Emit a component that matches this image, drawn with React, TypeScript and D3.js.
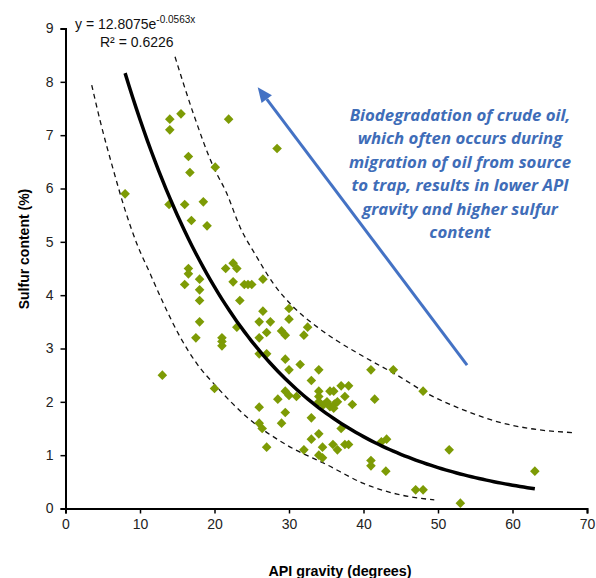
import React, {useRef, useEffect} from "react"
import * as d3 from "d3"

// API gravity (x) vs sulfur content (y)
const apiGravity = [8.0, 13.0, 14.0, 14.0, 15.5, 13.9, 16.0, 16.5, 16.7, 16.9, 18.5, 19.0, 20.1, 21.9, 28.4,
    16.5, 16.5, 16.0, 18.0, 18.0, 18.0, 18.0, 17.5, 21.5, 22.5, 23.0, 22.5, 24.0, 24.5, 25.0, 26.5, 23.4,
    26.5, 30.0, 30.0, 26.0, 27.5, 23.0, 27.0, 29.0, 29.5, 32.5, 32.0, 21.0, 21.0, 21.0, 26.0, 26.0, 27.0,
    29.5, 30.0, 31.5, 34.0, 33.0, 41.0, 44.0, 20.0, 29.5, 30.0, 28.5, 31.0, 34.0, 34.0, 35.5, 36.0, 37.0,
    38.0, 37.5, 38.5, 41.5, 48.0, 34.0, 34.6, 35.1, 35.5, 36.1, 36.5, 36.0, 26.0, 29.5, 33.0, 29.0, 26.0,
    26.4, 37.0, 34.0, 33.0, 35.9, 36.5, 37.5, 38.0, 34.5, 32.0, 27.0, 34.0, 34.5, 42.4, 43.1, 51.5, 41.0,
    41.0, 43.0, 63.0, 47.0, 48.0, 53.0]
const sulfur = [5.9, 2.5, 7.3, 7.1, 7.4, 5.7, 5.7, 6.6, 6.3, 5.4, 5.75, 5.3, 6.4, 7.3, 6.75,
    4.5, 4.4, 4.2, 4.3, 4.1, 3.9, 3.5, 3.2, 4.5, 4.6, 4.5, 4.25, 4.2, 4.2, 4.2, 4.3, 3.9,
    3.7, 3.75, 3.55, 3.5, 3.5, 3.4, 3.3, 3.33, 3.25, 3.4, 3.25, 3.2, 3.13, 3.05, 3.2, 2.9, 2.9,
    2.8, 2.6, 2.7, 2.6, 2.4, 2.6, 2.6, 2.25, 2.2, 2.12, 2.05, 2.1, 2.2, 2.1, 2.2, 2.2, 2.3,
    2.3, 2.1, 1.95, 2.05, 2.2, 2.0, 1.94, 2.0, 1.91, 1.96, 2.0, 1.88, 1.9, 1.8, 1.7, 1.6, 1.6,
    1.5, 1.5, 1.4, 1.3, 1.2, 1.1, 1.2, 1.2, 1.15, 1.1, 1.15, 1.0, 0.95, 1.25, 1.3, 1.1, 0.9,
    0.8, 0.7, 0.7, 0.35, 0.35, 0.1]

// exponential trendline y = a * e^(b x)
const fitA = 12.8075
const fitB = -0.0563
const fitRange = [8, 63]

// hand-drawn envelope (dashed)
const upperBand = [[14.7, 8.47], [17.15, 7.41], [19.84, 6.41], [21.64, 5.91], [23.42, 5.28], [25.66, 4.72],
    [27.89, 4.22], [30.58, 3.78], [33.72, 3.41], [36.5, 3.14], [40.0, 2.85], [44.5, 2.5], [48.9, 2.13],
    [53.4, 1.85], [57.9, 1.63], [62.3, 1.5], [68.4, 1.42]]
const lowerBand = [[3.52, 7.94], [4.63, 7.28], [6.42, 6.35], [7.99, 5.6], [9.56, 4.97], [11.34, 4.41],
    [13.13, 3.85], [15.37, 3.22], [17.61, 2.72], [20.3, 2.28], [24.3, 1.72], [29.7, 1.19], [35.1, 0.82],
    [40.0, 0.47], [44.5, 0.27], [49.5, 0.16]]

const arrowFrom = [53.9, 2.69]
const arrowTo = [25.8, 7.9]

const xTicks = [0, 10, 20, 30, 40, 50, 60, 70]
const yTicks = [0, 1, 2, 3, 4, 5, 6, 7, 8, 9]

const noteLines = ["Biodegradation of crude oil,", "which often occurs during", "migration of oil from source",
    "to trap, results in lower API", "gravity and higher sulfur", "content"]

const App = () => {
    let element = useRef(null)

    useEffect(() => {
        let W = 596, H = 578
        let margin = {top: 28.5, right: 9, bottom: 69.5, left: 65.5},
            width = W - margin.left - margin.right,
            height = H - margin.top - margin.bottom

        let svg = d3.select(element.current)
            .append("svg")
                .attr("width", W)
                .attr("height", H)
                .style("position", "absolute")
                .style("left", 0)
                .style("top", 0)
                .style("font-family", "Liberation Sans, Arial, sans-serif")

        let g = svg.append("g")
            .attr("transform", "translate(" + margin.left + "," + margin.top + ")")

        let x = d3.scaleLinear().domain([0, 70]).range([0, width])
        let y = d3.scaleLinear().domain([0, 9]).range([height, 0])

        // axes
        let xAxis = g.append("g")
            .attr("transform", "translate(0," + height + ")")
            .call(d3.axisBottom(x).tickValues(xTicks).tickSize(5).tickPadding(6))
        let yAxis = g.append("g")
            .call(d3.axisLeft(y).tickValues(yTicks).tickSize(5).tickPadding(7))
        for (let ax of [xAxis, yAxis]) {
            ax.select(".domain").attr("stroke-width", 2)
            ax.selectAll(".tick line").attr("stroke-width", 1.5)
            ax.selectAll(".tick text")
                .attr("font-size", 14)
                .attr("fill", "#222")
                .attr("font-family", "Liberation Sans, Arial, sans-serif")
        }

        // dashed envelope
        let line = d3.line().x(d => x(d[0])).y(d => y(d[1])).curve(d3.curveMonotoneX)
        for (let band of [upperBand, lowerBand]) {
            g.append("path")
                .attr("d", line(band))
                .attr("fill", "none")
                .attr("stroke", "#111")
                .attr("stroke-width", 1.3)
                .attr("stroke-dasharray", "5,4")
        }

        // points (square diamonds)
        let r = 4.8
        g.selectAll(".pt")
            .data(apiGravity.map((v, i) => [v, sulfur[i]]))
            .enter()
            .append("path")
                .attr("d", `M0,${-r}L${r},0L0,${r}L${-r},0Z`)
                .attr("transform", d => "translate(" + x(d[0]) + "," + y(d[1]) + ")")
                .attr("fill", "#7d9b05")

        // trendline
        let fitPts = d3.range(fitRange[0], fitRange[1] + 0.01, 0.5).map(v => [v, fitA * Math.exp(fitB * v)])
        g.append("path")
            .attr("d", d3.line().x(d => x(d[0])).y(d => y(d[1]))(fitPts))
            .attr("fill", "none")
            .attr("stroke", "#000")
            .attr("stroke-width", 3.5)

        // arrow
        let blue = "#4472c4"
        let x1 = x(arrowFrom[0]), y1 = y(arrowFrom[1]), x2 = x(arrowTo[0]), y2 = y(arrowTo[1])
        let ang = Math.atan2(y2 - y1, x2 - x1)
        let headLen = 15, headW = 6.5
        let bx = x2 - headLen * Math.cos(ang), by = y2 - headLen * Math.sin(ang)
        g.append("line")
            .attr("x1", x1).attr("y1", y1).attr("x2", bx).attr("y2", by)
            .attr("stroke", blue).attr("stroke-width", 3)
        g.append("path")
            .attr("d", "M" + x2 + "," + y2 +
                "L" + (bx + headW * Math.sin(ang)) + "," + (by - headW * Math.cos(ang)) +
                "L" + (bx - headW * Math.sin(ang)) + "," + (by + headW * Math.cos(ang)) + "Z")
            .attr("fill", blue)

        // note
        let note = svg.append("text")
            .attr("text-anchor", "middle")
            .attr("fill", "#3f6db8")
            .attr("font-family", "Open Sans, sans-serif")
            .attr("font-weight", "bold")
            .attr("font-style", "italic")
            .attr("font-size", 16.8)
        noteLines.forEach((t, i) => {
            note.append("tspan").attr("x", 460).attr("y", 121 + i * 23.4).text(t)
        })

        // equation
        let eq = svg.append("text").attr("x", 75).attr("y", 29).attr("font-size", 14).attr("fill", "#111")
        eq.append("tspan").text("y = 12.8075e")
        eq.append("tspan").attr("font-size", 10).attr("dy", -6).text("-0.0563x")
        svg.append("text").attr("x", 100).attr("y", 47).attr("font-size", 14).attr("fill", "#111")
            .text("R² = 0.6226")

        // axis titles
        svg.append("text")
            .attr("x", 340).attr("y", 576)
            .attr("text-anchor", "middle")
            .attr("font-size", 14.3)
            .attr("font-weight", "bold")
            .text("API gravity (degrees)")
        svg.append("text")
            .attr("transform", "translate(29,249) rotate(-90)")
            .attr("text-anchor", "middle")
            .attr("font-size", 14)
            .attr("font-weight", "bold")
            .text("Sulfur content (%)")

        return () => {
            if (element.current) {
                for (let child of [...element.current.children]) {
                    child.remove()
                }
            }
        }
    })

    return (
        <div ref={element}></div>
    )
}

export default App
